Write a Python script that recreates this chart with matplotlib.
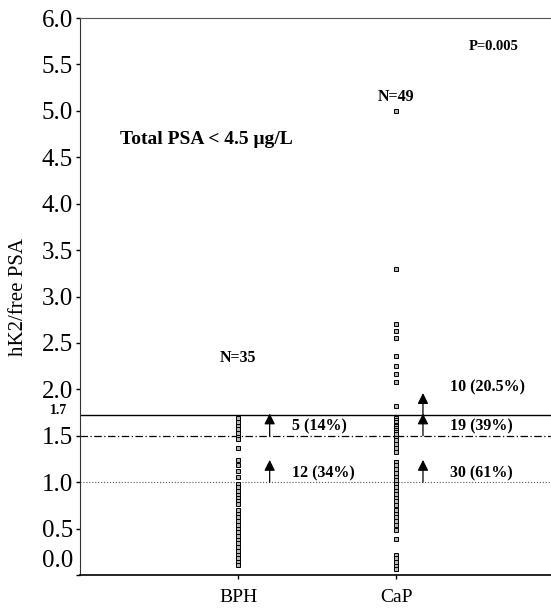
import numpy as np
import matplotlib
matplotlib.use("Agg")
import matplotlib.pyplot as plt
import matplotlib.transforms as mtransforms

# ---- data ----
groups = ["BPH", "CaP"]
bph_vals = [1.69, 1.65, 1.61, 1.57, 1.53,
            1.49, 1.46, 1.37, 1.24, 1.18, 1.12, 1.06,
            0.98, 0.95, 0.91, 0.86, 0.83, 0.80, 0.76, 0.70, 0.66, 0.62,
            0.58, 0.54, 0.50, 0.46, 0.42, 0.38, 0.34, 0.30, 0.26, 0.22,
            0.18, 0.14, 0.11]
cap_vals = [5.00, 3.30, 2.70, 2.63, 2.55, 2.36, 2.25, 2.17, 2.08, 1.82,
            1.69, 1.67, 1.65, 1.62, 1.60, 1.58, 1.56, 1.54, 1.52,
            1.48, 1.45, 1.41, 1.37, 1.33, 1.22, 1.18, 1.14, 1.10, 1.06, 1.02,
            0.98, 0.95, 0.91, 0.87, 0.83, 0.80, 0.75, 0.70, 0.66, 0.62,
            0.58, 0.54, 0.48, 0.39, 0.22, 0.18, 0.14, 0.10, 0.07]
cutoffs = [1.72, 1.5, 1.0]
cutoff_styles = [("-", 1.0, "black"), ((0, (6, 2, 1, 2)), 0.9, "black"), (":", 0.8, "#555555")]
bph_counts = ["5 (14%)", "12 (34%)"]
cap_counts = ["10 (20.5%)", "19 (39%)", "30 (61%)"]
yticks = [0.0, 0.5, 1.0, 1.5, 2.0, 2.5, 3.0, 3.5, 4.0, 4.5, 5.0, 5.5, 6.0]

plt.rcParams['font.family'] = ['Liberation Serif', 'DejaVu Serif']

fig = plt.figure(figsize=(5.51, 6.11), dpi=100)
ax = fig.add_axes([0.1452, 0.0589, 0.8548, 0.9116])

# scatter columns
for i, vals in enumerate([bph_vals, cap_vals]):
    xs = np.full(len(vals), i + 1.0)
    ax.plot(xs, vals, linestyle="none", marker="s", markersize=3.4,
            markerfacecolor="#b5b5b5", markeredgecolor="black", markeredgewidth=0.7)

# cut-off lines
for yv, (ls, lw, col) in zip(cutoffs, cutoff_styles):
    ax.axhline(yv, linestyle=ls, linewidth=lw, color=col, zorder=1)

# arrows and counts
arrow_len = 0.24
bph_ax = 1.2
cap_ax = 2.17
for yv, lab in zip(cutoffs[1:], bph_counts):
    ax.annotate("", xy=(bph_ax, yv + arrow_len), xytext=(bph_ax, yv),
                arrowprops=dict(arrowstyle="-|>", color="black", lw=0.9, mutation_scale=16,
                                shrinkA=0, shrinkB=0))
    ax.text(bph_ax + 0.14, yv + 0.1, lab, fontsize=11.5, fontweight="bold", va="center")
for yv, lab in zip(cutoffs, cap_counts):
    ax.annotate("", xy=(cap_ax, yv + arrow_len), xytext=(cap_ax, yv),
                arrowprops=dict(arrowstyle="-|>", color="black", lw=0.9, mutation_scale=16,
                                shrinkA=0, shrinkB=0))
    ax.text(cap_ax + 0.17, yv + 0.1 if yv < 1.6 else yv + 0.3, lab,
            fontsize=11.5, fontweight="bold", va="center")

# annotations
ax.text(1.0, 2.34, "N=%d" % len(bph_vals), fontsize=11.5, fontweight="bold", ha="center", va="center")
ax.text(2.0, 5.15, "N=%d" % len(cap_vals), fontsize=11.5, fontweight="bold", ha="center", va="center")
ax.text(2.62, 5.69, "P=0.005", fontsize=10.5, fontweight="bold", ha="center", va="center")
ax.text(0.25, 4.69, "Total PSA < 4.5 \u03bcg/L", fontsize=14, fontweight="bold", va="center")
ax.text(-0.08, cutoffs[0] + 0.05, "1.7", fontsize=10, fontweight="bold", ha="right", va="center",
        transform=ax.transData)

# axes
ax.set_xlim(0, 2.98)
ax.set_ylim(0, 6.0)
ax.set_xticks([1, 2])
ax.set_xticklabels(groups, fontsize=14)
ax.set_yticks(yticks)
ax.set_yticklabels(["%.1f" % t for t in yticks], fontsize=18)
ax.tick_params(axis="y", length=3, width=1, pad=2)
ax.tick_params(axis="x", length=3, width=1, pad=7)
ax.set_ylabel("hK2/free PSA", fontsize=15, labelpad=10)

# lift the 0.0 label above the x axis like in the source
lab0 = ax.get_yticklabels()[0]
lab0.set_transform(lab0.get_transform() + mtransforms.ScaledTranslation(0, 12 / 72, fig.dpi_scale_trans))

ax.spines["right"].set_visible(False)
ax.spines["top"].set_color("#555555")
ax.spines["left"].set_color("#333333")
ax.spines["bottom"].set_linewidth(1.2)

fig.savefig("out.png", dpi=100)
